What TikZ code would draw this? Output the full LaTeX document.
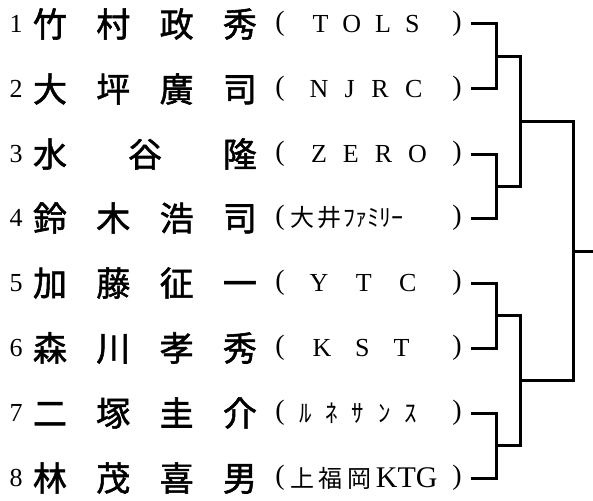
\documentclass[tikz,border=0pt]{standalone}
\usepackage{fontspec}
\setmainfont{Liberation Serif}
\newfontfamily\jpfont{Noto Sans CJK JP}
\newfontfamily\namefont[FakeBold=1.6]{Noto Sans CJK JP}
\newcommand\spread[2]{\hbox to #1pt{#2}}

\tikzset{
  num/.style={font=\fontsize{26}{26}\selectfont, inner sep=0pt},
  player/.style={font=\namefont\fontsize{34}{34}\selectfont, inner sep=0pt},
  paren/.style={font=\fontsize{28}{28}\selectfont, inner sep=0pt},
  club/.style={font=\fontsize{26}{26}\selectfont, inner sep=0pt},
  line/.style={line width=3pt}
}

\begin{document}
\begin{tikzpicture}[x=1pt,y=-1pt]
\useasboundingbox (0,0) rectangle (593,500);

\node [num] (n1) at (16,24) {1};
\node [num] (n2) at (16,89) {2};
\node [num] (n3) at (16,154) {3};
\node [num] (n4) at (16,218) {4};
\node [num] (n5) at (16,283) {5};
\node [num] (n6) at (16,348) {6};
\node [num] (n7) at (16,413) {7};
\node [num] (n8) at (16,478) {8};

\node [player] (p1) at (145,24) {\spread{224}{竹\hfil 村\hfil 政\hfil 秀}};
\node [player] (p2) at (145,89) {\spread{224}{大\hfil 坪\hfil 廣\hfil 司}};
\node [player] (p3) at (145,154) {\spread{224}{水\hfil 谷\hfil 隆}};
\node [player] (p4) at (145,218) {\spread{224}{鈴\hfil 木\hfil 浩\hfil 司}};
\node [player] (p5) at (145,283) {\spread{224}{加\hfil 藤\hfil 征\hfil 一}};
\node [player] (p6) at (145,348) {\spread{224}{森\hfil 川\hfil 孝\hfil 秀}};
\node [player] (p7) at (145,413) {\spread{224}{二\hfil 塚\hfil 圭\hfil 介}};
\node [player] (p8) at (145,478) {\spread{224}{林\hfil 茂\hfil 喜\hfil 男}};

\node [paren] (o1) at (280,24) {(};
\node [paren] (o2) at (280,89) {(};
\node [paren] (o3) at (280,154) {(};
\node [paren] (o4) at (280,218) {(};
\node [paren] (o5) at (280,283) {(};
\node [paren] (o6) at (280,348) {(};
\node [paren] (o7) at (280,413) {(};
\node [paren] (o8) at (280,478) {(};

\node [club] (t1) at (366,24) {\spread{107}{T\hfil O\hfil L\hfil S}};
\node [club] (t2) at (366,89) {\spread{113}{N\hfil J\hfil R\hfil C}};
\node [club] (t3) at (369,154) {\spread{116}{Z\hfil E\hfil R\hfil O}};
\node [club] (t4) at (347,218) {\jpfont\fontsize{24}{24}\selectfont\spread{113}{大\hfil 井\hfil ﾌｧﾐﾘｰ}};
\node [club] (t5) at (363,283) {\spread{107}{Y\hfil T\hfil C}};
\node [club] (t6) at (361,348) {\spread{97}{K\hfil S\hfil T}};
\node [club] (t7) at (358,413) {\jpfont\fontsize{25}{25}\selectfont\spread{118}{ﾙ\hfil ﾈ\hfil ｻ\hfil ﾝ\hfil ｽ}};
\node [club] (t8) at (364,478) {\spread{147}{{\jpfont\fontsize{24}{24}\selectfont 上\hfil 福\hfil 岡}\hfil {\fontsize{30}{30}\selectfont KTG}}};

\node [paren] (c1) at (457,24) {)};
\node [paren] (c2) at (457,89) {)};
\node [paren] (c3) at (457,154) {)};
\node [paren] (c4) at (457,218) {)};
\node [paren] (c5) at (457,283) {)};
\node [paren] (c6) at (457,348) {)};
\node [paren] (c7) at (457,413) {)};
\node [paren] (c8) at (457,478) {)};

% bracket joins
\coordinate (b12) at (496,56.5);
\coordinate (b34) at (496,186);
\coordinate (b56) at (496,315.5);
\coordinate (b78) at (496,445.5);
\coordinate (q14) at (520,121);
\coordinate (q58) at (520,380.5);
\coordinate (fin) at (573,251);
\coordinate (win) at (593,251);

\draw [line] ([xshift=9pt]c1.east) -| (b12) |- ([xshift=9pt]c2.east);
\draw [line] ([xshift=9pt]c3.east) -| (b34) |- ([xshift=9pt]c4.east);
\draw [line] ([xshift=9pt]c5.east) -| (b56) |- ([xshift=9pt]c6.east);
\draw [line] ([xshift=9pt]c7.east) -| (b78) |- ([xshift=9pt]c8.east);
\draw [line] (b12) -| (q14) |- (b34);
\draw [line] (b56) -| (q58) |- (b78);
\draw [line] (q14) -| (fin) |- (q58);
\draw [line] (fin) -- (win);
\end{tikzpicture}
\end{document}
